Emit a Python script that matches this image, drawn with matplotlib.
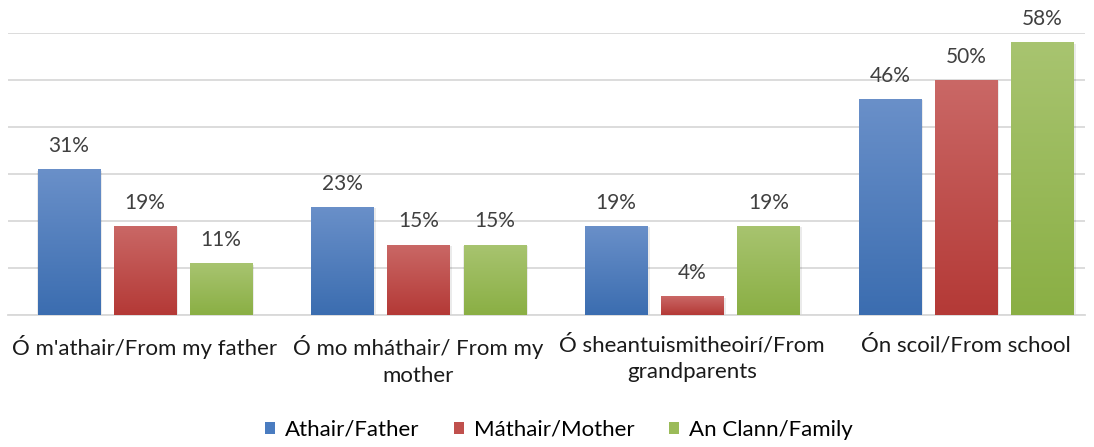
import numpy as np
import matplotlib.pyplot as plt
from matplotlib.colors import LinearSegmentedColormap
from matplotlib.patches import Patch

# ==================== data ====================
categories = [
    "Ó m'athair/From my father",
    "Ó mo mháthair/ From my\nmother",
    "Ó sheantuismitheoirí/From\ngrandparents",
    "Ón scoil/From school",
]
series_names = ["Athair/Father", "Máthair/Mother", "An Clann/Family"]
father = [31, 23, 19, 46]
mother = [19, 15, 4, 50]
family = [11, 15, 19, 58]

# ==================== style ====================
plt.rcParams['font.family'] = ['Lato', 'DejaVu Sans']
grad = {
    "Athair/Father": ("#3B6DB0", "#6A90C9"),
    "Máthair/Mother": ("#B43936", "#CA6866"),
    "An Clann/Family": ("#8AAF44", "#A8C470"),
}
solid = {"Athair/Father": "#4A7CC0", "Máthair/Mother": "#C0504D", "An Clann/Family": "#9BBB59"}

fig = plt.figure(figsize=(10.94, 4.47), dpi=100)
ax = fig.add_axes([8 / 1094, 1 - 315 / 447, 1077 / 1094, 282 / 447])

x = np.arange(len(categories))
width = 0.227
offset = 0.278
ymax = 60

for i, (name, vals) in enumerate(zip(series_names, [father, mother, family])):
    cmap = LinearSegmentedColormap.from_list(name, list(grad[name]))
    bars = ax.bar(x + (i - 1) * offset, vals, width, color="none", zorder=3)
    for b, v in zip(bars, vals):
        x0, w, h = b.get_x(), b.get_width(), b.get_height()
        # soft shadow
        ax.bar(x0 + w / 2 + 0.004, h, w + 0.01, bottom=-0.3, color="#000000",
               alpha=0.08, zorder=2, linewidth=0)
        g = np.linspace(0, 1, 256).reshape(-1, 1)
        im = ax.imshow(g, cmap=cmap, aspect="auto", origin="lower",
                       extent=(x0, x0 + w, 0, h), zorder=3)
        im.set_clip_path(b)
        ax.text(x0 + w / 2, h + 2.8, f"{v}%", ha="center", va="bottom",
                fontsize=15, color="#404040", clip_on=False)

ax.set_xlim(-0.5, 3.435)
ax.set_ylim(0, ymax)
ax.set_yticks(np.arange(0, ymax + 1, 10))
ax.yaxis.grid(True, color="#D9D9D9", linewidth=1.3, zorder=0)
ax.set_axisbelow(True)
ax.tick_params(axis="y", left=False, labelleft=False)
ax.tick_params(axis="x", bottom=False, pad=11)
ax.set_xticks(x)
ax.set_xticklabels(categories, fontsize=16, color="#1A1A1A", linespacing=1.4)
for s in ["top", "right", "left"]:
    ax.spines[s].set_visible(False)
ax.spines["bottom"].set_color("#D9D9D9")
ax.spines["bottom"].set_linewidth(1.3)

handles = [Patch(facecolor=solid[n], edgecolor="none") for n in series_names]
fig.legend(handles, series_names, loc="center", bbox_to_anchor=(559 / 1094, 1 - 430 / 447),
           ncol=3, frameon=False, fontsize=16, handlelength=0.45, handleheight=0.45,
           handletextpad=0.45, columnspacing=1.55)

fig.savefig("out.png", dpi=100)
